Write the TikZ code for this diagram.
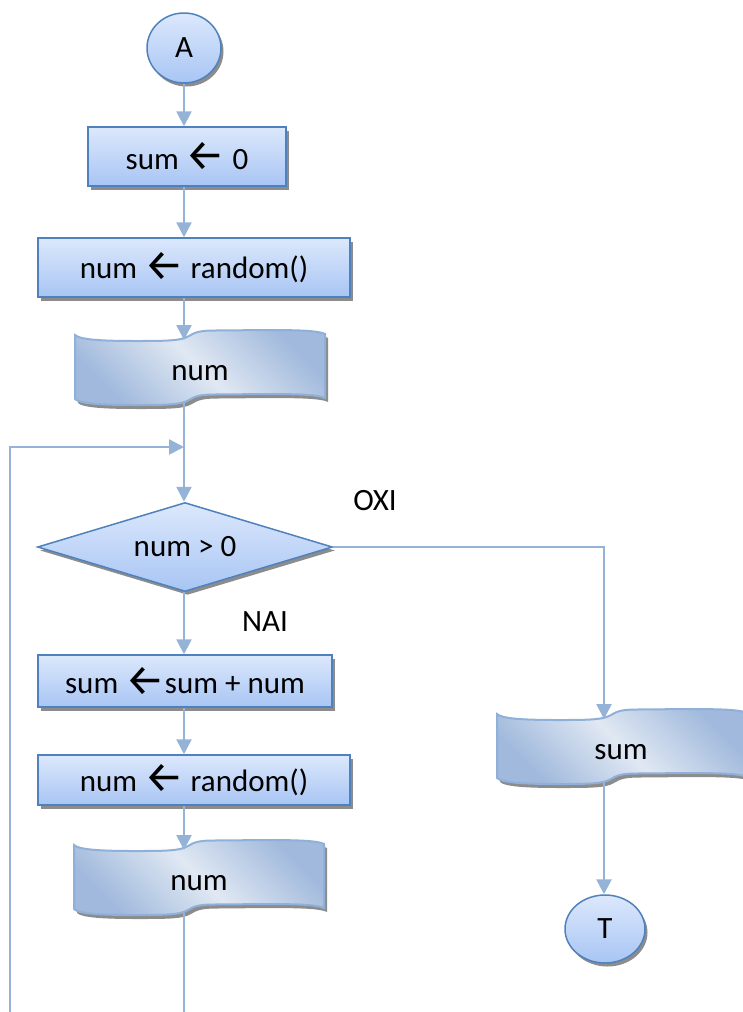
\documentclass[tikz,border=0pt]{standalone}
\usepackage{fontspec}
\setmainfont{Carlito}
\newfontfamily\symfont{Fira Sans}
\usetikzlibrary{arrows.meta,shapes.geometric,shadows}

\definecolor{linkblue}{HTML}{95B3D7}
\definecolor{edgeblue}{HTML}{4F81BD}
\definecolor{filltop}{HTML}{DCE8FC}
\definecolor{fillbot}{HTML}{A8C5F4}
\definecolor{tapeedge}{HTML}{8FB0D8}
\definecolor{tapedark}{HTML}{A0B9DC}
\definecolor{tapelight}{HTML}{E0E8F3}
\definecolor{shadowgray}{HTML}{8C8C8C}

% assignment arrow, a sans glyph sized to the label text
\newcommand{\larr}{\raisebox{-1.5pt}{\fontsize{44}{44}\selectfont\symfont ←}}

\tikzset{
  boxshade/.style={draw=edgeblue, line width=1.5pt, top color=filltop, bottom color=fillbot,
    drop shadow={shadow xshift=2.5pt, shadow yshift=-3.5pt, fill=shadowgray, opacity=1},
    inner sep=0pt},
  proc/.style={boxshade, rectangle},
  term/.style={boxshade, ellipse},
  cond/.style={boxshade, diamond, aspect=3.3},
  link/.style={draw=linkblue, line width=2.6pt},
  flowarrow/.style={link, -{Triangle[width=15pt,length=15pt]}},
  lbl/.style={inner sep=0pt},
  % wavy input/output shape, origin at its top-left corner
  tape/.pic={
    \path[fill=shadowgray, shift={(3,4)}]
      (0,0) .. controls (5,5) and (30,6) .. (60,6)
      .. controls (90,6) and (106,6) .. (114,1)
      .. controls (120,-3) and (126,-4.5) .. (140,-4.5)
      .. controls (200,-5) and (240,-6) .. (250,-1)
      -- (250,63)
      .. controls (240,58) and (200,59) .. (140,59.5)
      .. controls (126,59.5) and (120,61) .. (114,65)
      .. controls (106,70) and (90,70) .. (60,70)
      .. controls (30,70) and (5,69) .. (0,64) -- cycle;
    \path[draw=tapeedge, line width=2pt, top color=tapedark, bottom color=tapedark,
          middle color=tapelight, shading angle=-45]
      (0,0) .. controls (5,5) and (30,6) .. (60,6)
      .. controls (90,6) and (106,6) .. (114,1)
      .. controls (120,-3) and (126,-4.5) .. (140,-4.5)
      .. controls (200,-5) and (240,-6) .. (250,-1)
      -- (250,63)
      .. controls (240,58) and (200,59) .. (140,59.5)
      .. controls (126,59.5) and (120,61) .. (114,65)
      .. controls (106,70) and (90,70) .. (60,70)
      .. controls (30,70) and (5,69) .. (0,64) -- cycle;
  }
}

\begin{document}
\begin{tikzpicture}[x=1pt, y=-1pt, font=\fontsize{31}{37}\selectfont]
\useasboundingbox (0,0) rectangle (742,1012);

% main column
\node[term, minimum width=74, minimum height=70] (A) at (184,48) {A};
\node[proc, minimum width=198, minimum height=59] (b1) at (187,156.5) {sum \larr{} 0};
\node[proc, minimum width=312, minimum height=59] (b2) at (194,267.5) {num \larr{} random()};

\pic (p1) at (75,335) {tape};
\node[lbl] (d1t) at (200,373) {num};
\coordinate (d1in) at (184,340);
\coordinate (d1out) at (184,403);

\node[cond, minimum width=295, minimum height=89] (dec) at (185,547) {num > 0};
\node[lbl] (oxi) at (375,501) {OXI};
\node[lbl] (nai) at (265,622) {NAI};

\node[proc, minimum width=294, minimum height=52] (b3) at (185,681) {sum \larr{}sum + num};
\node[proc, minimum width=312, minimum height=50] (b4) at (194,780) {num \larr{} random()};

\pic (p2) at (74,845) {tape};
\node[lbl] (d2t) at (199,883) {num};
\coordinate (d2in) at (184,850);
\coordinate (d2out) at (184,913);
\coordinate (d2end) at (184,1012);

% output branch
\pic (p3) at (497,714) {tape};
\node[lbl] (d3t) at (621,752) {sum};
\coordinate (d3in) at (604,719);
\coordinate (d3out) at (604,782);
\node[term, minimum width=80, minimum height=68] (T) at (605,929) {T};

% loop return
\coordinate (lpb) at (10,1012);
\coordinate (lpt) at (10,447);
\coordinate (merge) at (184,447);

% connectors
\draw[flowarrow] (A.south) -- (A.south |- b1.north);
\draw[flowarrow] (b1.south -| A) -- (b2.north -| A);
\draw[flowarrow] (b2.south -| A) -- (d1in);
\draw[flowarrow] (d1out) -- (d1out |- dec.north);
\draw[flowarrow] (lpb) -- (lpt) -- (merge);
\draw[flowarrow] (dec.south -| A) -- (b3.north -| A);
\draw[flowarrow] (b3.south -| A) -- (b4.north -| A);
\draw[flowarrow] (b4.south -| A) -- (d2in);
\draw[link] (d2out) -- (d2end);
\draw[flowarrow] (dec.east) -| (d3in);
\draw[flowarrow] (d3out) -- (d3out |- T.north);
\end{tikzpicture}
\end{document}
